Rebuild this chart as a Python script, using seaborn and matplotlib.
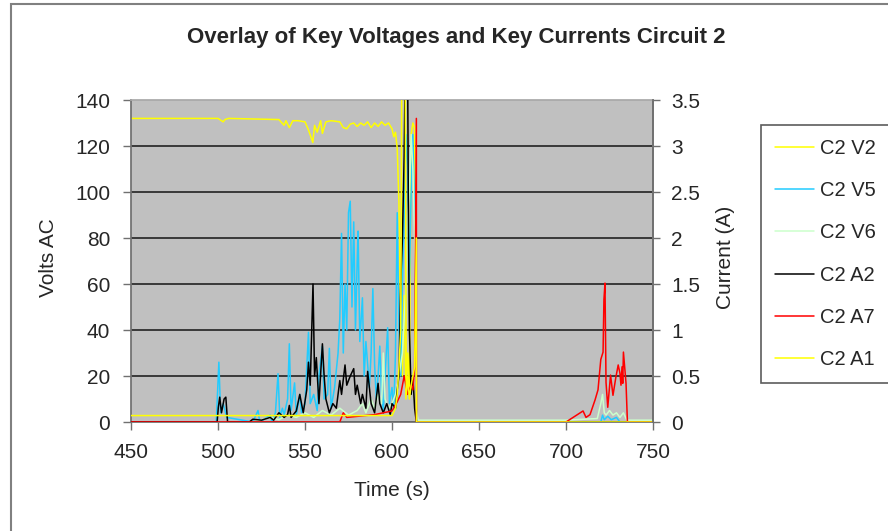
import matplotlib
matplotlib.use("Agg")
import matplotlib.pyplot as plt
from matplotlib.patches import Rectangle
import seaborn as sns
import pandas as pd

# C2 V2 (volts)
v2_t = [450, 500, 503, 504, 506, 535, 538, 539, 541, 543, 546, 550, 552, 554.5, 555.5, 557, 559, 560,
        562, 565, 570, 572, 574, 576, 578, 580, 582, 584, 586, 588, 590, 592, 594, 596, 598, 600, 601,
        602, 603, 604, 605, 606, 607, 608, 609, 610, 611, 612, 613, 614.05, 750]
v2_v = [132, 132, 130.5, 131.5, 132, 131.5, 129, 131, 128, 131, 131, 130.5, 127, 121.5, 129, 126, 131,
        125.5, 130.5, 131, 130.5, 128, 127.5, 129.5, 130, 128.5, 130, 129, 130.5, 128, 130, 128.5, 130.5,
        129, 130, 127.5, 124, 126, 119, 95, 40, 20, 55, 10, 30, 15, 125, 130, 128, 0, 0]

# C2 V5 (volts)
v5_t = [450, 499, 500.5, 501.5, 503, 505, 520, 523, 524, 530, 531, 533, 534.5, 535.5, 537, 538, 540,
        541, 542, 544, 545, 547, 548, 550, 552, 553, 555, 557, 558, 560, 561, 563, 564, 565, 567, 569,
        570, 571, 572, 573, 574, 575, 576, 577, 578, 579, 580, 580.5, 581.5, 583, 584, 585, 587, 588,
        589, 590, 591, 592, 593, 594, 595, 596, 597.5, 598.5, 600, 601, 602, 603, 604, 605, 606, 607,
        608, 609, 610, 611, 612, 613, 614, 615, 700, 720, 721, 722, 724, 726, 729, 731, 750]
v5_v = [0, 0, 26, 4, 8, 2, 0, 5, 0, 3, 0, 4, 21, 2, 6, 3, 10,
        34, 5, 17, 3, 12, 4, 8, 39, 8, 12, 5, 20, 33, 10, 12, 32, 6, 15, 30,
        45, 82, 30, 60, 40, 91, 96, 50, 87, 40, 70, 83, 35, 54, 20, 35, 15, 30,
        58, 25, 10, 20, 33, 12, 5, 20, 41, 8, 15, 5, 30, 91, 40, 20, 60, 90,
        125, 110, 60, 100, 125, 90, 2, 0, 0, 0, 3, 1, 2.5, 1, 2, 0, 0]

# C2 V6 (volts)
v6_t = [450, 520, 525, 530, 535, 540, 545, 550, 555, 560, 565, 570, 575, 580, 583, 585, 588, 590, 592,
        594, 595, 596, 598, 600, 602, 604, 606, 608, 609, 610, 611, 612, 613, 614, 615, 700, 718, 720,
        721, 722, 723, 725, 727, 729, 731, 733, 735, 750]
v6_v = [0, 0, 1, 2, 1, 3, 2, 4, 2, 5, 3, 6, 3, 5, 8, 4, 10, 6, 12,
        8, 30, 10, 6, 8, 12, 20, 30, 60, 90, 100, 125, 110, 80, 5, 0.8, 0.8, 1.5, 8,
        12, 4, 3, 5, 3, 4, 2, 4, 0.8, 0.8]

# C2 A2 (amps)
a2_t = [450, 499.5, 500.2, 501, 502, 503.5, 504.5, 505.5, 518, 520, 525, 530, 532, 535, 538, 540, 541,
        542, 545, 547, 549, 551, 552, 553, 554.6, 555.5, 556.5, 558, 560, 561, 562, 564, 566, 568, 570,
        571, 573, 574, 576, 578, 579, 580, 582, 583, 585, 586, 588, 590, 592, 593, 595, 597, 599, 600,
        602, 603, 604, 605, 606, 607, 608, 608.8, 609.5, 610, 611, 612, 613, 614, 750]
a2_v = [0, 0, 0.16, 0.27, 0.1, 0.25, 0.27, 0, 0, 0.03, 0.02, 0.05, 0.02, 0.1, 0.05, 0.08, 0.18,
        0.05, 0.12, 0.3, 0.1, 0.35, 0.65, 0.4, 1.5, 0.5, 0.7, 0.2, 0.85, 0.5, 0.25, 0.1, 0.2, 0.15, 0.45,
        0.3, 0.62, 0.4, 0.5, 0.58, 0.3, 0.4, 0.2, 0.3, 0.15, 0.55, 0.2, 0.1, 0.42, 0.2, 0.1, 0.2, 0.08, 0.2,
        0.15, 0.35, 0.5, 1.5, 2.0, 2.9, 4.5, 4.5, 2.0, 1.0, 0.3, 0.5, 0.15, 0, 0]

# C2 A7 (amps)
a7_t = [450, 570, 572, 574, 590, 595, 600, 603, 605, 607, 609, 611, 612, 613, 614, 614.05, 700, 709.8,
        711.5, 713.8, 716.7, 718.4, 720, 721.3, 721.8, 722.4, 723, 724, 725.6, 727, 728.6, 730, 731,
        731.6, 732.2, 732.6, 733, 734.5, 735.3, 750]
a7_v = [0, 0, 0.1, 0.05, 0.08, 0.1, 0.12, 0.22, 0.3, 0.5, 0.3, 0.4, 0.35, 0.6, 3.3, 0, 0, 0.12,
        0.05, 0.08, 0.24, 0.35, 0.68, 0.76, 1.33, 1.51, 0.43, 0.16, 0.51, 0.29, 0.48, 0.62, 0.53,
        0.4, 0.6, 0.42, 0.76, 0.42, 0, 0]

# C2 A1 (amps)
a1_t = [450, 600, 602, 603, 604, 605, 605.8, 606.5, 607.5, 608.2, 609, 610, 611, 612, 613, 614,
        614.05, 750]
a1_v = [0.07, 0.07, 0.15, 0.3, 0.6, 1.0, 4.5, 4.5, 4.5, 0.3, 0.5, 0.25, 0.4, 0.5, 0.6, 2.0, 0, 0]

sns.set_theme(style="white")
plt.rcParams["font.family"] = ["Liberation Sans", "DejaVu Sans"]

fig = plt.figure(figsize=(8.88, 5.31), dpi=100)
ax = fig.add_axes([131 / 888, 109 / 531, 522 / 888, 322 / 531])
ax2 = ax.twinx()
ax.set_facecolor("#C0C0C0")
ax2.patch.set_visible(False)

volts = [("C2 V2", v2_t, v2_v, "#FFFF00"), ("C2 V5", v5_t, v5_v, "#22CCFF"),
         ("C2 V6", v6_t, v6_v, "#CCFFCC")]
amps = [("C2 A2", a2_t, a2_v, "#000000"), ("C2 A7", a7_t, a7_v, "#FF0000"),
        ("C2 A1", a1_t, a1_v, "#FFFF00")]

handles = []
for target, series in ((ax, volts), (ax2, amps)):
    for name, t, v, col in series:
        df = pd.DataFrame({"t": t, "v": v})
        sns.lineplot(data=df, x="t", y="v", ax=target, color=col, lw=1.1,
                     estimator=None, sort=False, legend=False)
        line = target.get_lines()[-1]
        line.set_label(name)
        handles.append(line)

ax.set_xlim(450, 750)
ax.set_ylim(0, 140)
ax2.set_ylim(0, 3.5)
ax.set_xticks(range(450, 751, 50))
ax.set_yticks(range(0, 141, 20))
ax2.set_yticks([0, 0.5, 1, 1.5, 2, 2.5, 3, 3.5])
ax2.set_yticklabels(["0", "0.5", "1", "1.5", "2", "2.5", "3", "3.5"])
ax.set_xlabel("")
ax.set_ylabel("")
ax2.set_ylabel("")

ax.set_axisbelow(True)
ax.yaxis.grid(True, color="#222222", lw=1.2)
ax.get_ygridlines()[-1].set_visible(False)
ax.xaxis.grid(False)

for s in ("left", "bottom", "right"):
    ax.spines[s].set_color("#707070")
    ax2.spines[s].set_color("#707070")
ax.spines["top"].set_color("#A8A8A8")
ax2.spines["top"].set_visible(False)
ax2.spines["left"].set_visible(False)
ax2.spines["bottom"].set_visible(False)

ax.tick_params(axis="x", direction="out", length=6, width=1, color="#707070",
               labelsize=15, pad=9, bottom=True)
ax.tick_params(axis="y", direction="out", length=6, width=1, color="#707070",
               labelsize=15, pad=9, left=True)
ax2.tick_params(axis="y", direction="out", length=5, width=1, color="#707070",
                labelsize=15, pad=8, right=True)

fig.text(456 / 888, 1 - 38 / 531, "Overlay of Key Voltages and Key Currents Circuit 2",
         ha="center", va="center", fontsize=16, fontweight="bold")
fig.text(48 / 888, 1 - 258 / 531, "Volts AC", rotation=90, ha="center", va="center", fontsize=15)
fig.text(725 / 888, 1 - 257 / 531, "Current (A)", rotation=90, ha="center", va="center", fontsize=15)
fig.text(392 / 888, 1 - 491 / 531, "Time (s)", ha="center", va="center", fontsize=15)

leg = fig.legend(handles=handles, loc="upper left", bbox_to_anchor=(761 / 888, 1 - 125 / 531),
                 fontsize=14.5, frameon=True, fancybox=False, edgecolor="#333333",
                 handlelength=1.95, handletextpad=0.3, labelspacing=1.15, borderpad=0.7,
                 borderaxespad=0)
leg.get_frame().set_linewidth(1.2)

fig.add_artist(Rectangle((11 / 888, -0.1), 1.2, 1 - 4 / 531 + 0.1, transform=fig.transFigure,
                         fill=False, edgecolor="#808080", lw=1.5))

fig.savefig("out.png", dpi=100)
